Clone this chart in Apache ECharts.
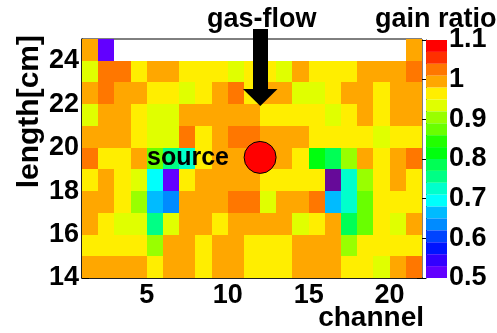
<!DOCTYPE html>
<html><head><meta charset="utf-8">
<script src="https://cdn.jsdelivr.net/npm/echarts@6/dist/echarts.min.js"></script>
<style>html,body{margin:0;padding:0;background:#fff}#c{width:497px;height:333px}</style>
</head><body><div id="c"></div>
<script>
// channel bins start at 1..21 (width 1), length bins start at 14..24 (height 1 cm)
const channels = [1,2,3,4,5,6,7,8,9,10,11,12,13,14,15,16,17,18,19,20,21];
const lengths = [14,15,16,17,18,19,20,21,22,23,24];
// gain ratio per row (null = empty cell)
const row14 = [0.995,0.995,0.995,0.995,0.965,0.995,0.995,0.965,0.995,0.995,0.965,0.965,0.965,0.995,0.995,0.995,0.965,0.965,0.935,0.995,1.025];
const row15 = [0.965,0.965,0.965,0.965,0.905,0.995,0.995,0.965,0.995,0.995,0.965,0.965,0.965,0.995,0.995,0.995,0.905,0.965,0.965,0.965,0.965];
const row16 = [0.995,0.965,0.935,0.935,0.755,0.935,0.995,0.995,0.965,0.995,0.995,0.995,0.995,0.935,0.965,0.995,0.785,0.875,0.965,0.935,0.995];
const row17 = [0.995,0.995,0.965,0.905,0.665,0.635,0.995,0.995,0.995,1.025,1.025,0.935,0.995,0.995,1.025,0.665,0.725,0.875,0.965,0.965,0.965];
const row18 = [0.965,0.995,0.965,0.935,0.695,0.515,0.965,0.995,0.995,0.995,0.995,0.965,0.965,0.965,0.965,0.48,0.725,0.905,0.965,0.995,0.965];
const row19 = [1.025,0.965,0.965,0.995,0.875,0.755,0.725,0.965,0.995,0.995,0.995,0.995,0.995,0.965,0.815,0.785,0.905,0.995,0.965,0.995,1.025];
const row20 = [0.995,0.995,0.995,0.965,0.935,0.935,1.025,0.965,0.995,1.025,1.025,0.995,0.995,0.995,0.965,0.965,0.965,0.965,0.935,0.965,0.965];
const row21 = [0.935,0.995,0.995,0.965,0.935,0.935,0.995,0.995,0.995,0.995,0.995,0.965,0.965,0.965,0.965,0.935,0.965,0.995,0.965,0.995,0.995];
const row22 = [0.995,1.025,0.995,0.995,0.965,0.965,0.935,0.965,0.995,1.025,0.965,0.995,0.995,0.935,0.935,0.965,0.995,0.995,0.965,0.995,0.995];
const row23 = [0.935,1.025,1.025,0.965,0.995,0.995,0.965,0.965,0.965,0.935,0.965,0.965,0.935,0.995,0.965,0.965,0.965,0.995,0.995,0.995,1.025];
const row24 = [0.995,0.515,null,null,null,null,null,null,null,null,null,null,null,null,null,null,null,null,null,null,0.995];
const rows = [row14,row15,row16,row17,row18,row19,row20,row21,row22,row23,row24];

const xTicks = [5,10,15,20];
const yTicks = [14,16,18,20,22,24];
const zMin = 0.5, zMax = 1.1, zLevels = 20;
// ROOT "pretty" palette colours for 20 contour levels (low -> high)
const levelColors = ['#6200FF','#3300FF','#0014FF','#0044FF','#008BFF','#00BBFF','#00FFFC','#00FFCC','#00FF85','#00FF55',
                     '#00FF0E','#22FF00','#69FF00','#99FF00','#E0FF00','#FFEE00','#FFA700','#FF7700','#FF3000','#FF0000'];
const sourcePos = [12, 19.55];

const data = [];
rows.forEach((r, i) => r.forEach((v, j) => { if (v !== null) data.push([channels[j], lengths[i], v]); }));

const step = (zMax - zMin) / zLevels;
const pieces = levelColors.map((c, j) => ({gte: +(zMin + j*step).toFixed(4), lt: +(zMin + (j+1)*step).toFixed(4), color: c}));

const FF = 'Liberation Sans';
const lbl = {fontFamily: FF, fontWeight: 'bold', fontSize: 27, color: '#000'};

const chart = echarts.init(document.getElementById('c'), null, {renderer: 'canvas'});
chart.setOption({
  backgroundColor: '#fff',
  animation: false,
  grid: [
    {left: 82, top: 39, right: 75, bottom: 55, show: true, borderColor: '#000', borderWidth: 1, backgroundColor: 'transparent'},
    {left: 426, top: 40, width: 21, bottom: 55}
  ],
  xAxis: [
    {type: 'value', gridIndex: 0, min: 1, max: 22,
     axisLine: {lineStyle: {color: '#000', width: 1.5}},
     axisTick: {inside: true, length: 7, lineStyle: {color: '#000'}, customValues: xTicks},
     axisLabel: Object.assign({margin: 4, customValues: xTicks}, lbl),
     splitLine: {show: false}},
    {type: 'value', gridIndex: 1, show: false, min: 0, max: 1}
  ],
  yAxis: [
    {type: 'value', gridIndex: 0, min: 14, max: 25,
     axisLine: {show: true, lineStyle: {color: '#000', width: 1.5}},
     axisTick: {show: true, inside: true, length: 7, lineStyle: {color: '#000'}, customValues: yTicks},
     axisLabel: Object.assign({margin: 3, customValues: yTicks}, lbl),
     splitLine: {show: false}},
    {type: 'value', gridIndex: 1, position: 'right', min: zMin, max: zMax, interval: 0.1,
     axisLine: {show: true, lineStyle: {color: '#000', width: 1}},
     axisTick: {show: true, inside: true, length: 9, lineStyle: {color: '#000'}},
     axisLabel: Object.assign({margin: 2}, lbl),
     splitLine: {show: false}}
  ],
  visualMap: {
    type: 'piecewise', seriesIndex: 0, dimension: 2, orient: 'vertical',
    pieces: pieces, outOfRange: {color: '#660A99'},
    left: 426, top: 40, padding: 0, itemWidth: 21, itemHeight: 238/20, itemGap: 0,
    itemSymbol: 'rect', showLabel: false, selectedMode: false, textStyle: {fontSize: 0}
  },
  series: [
    {type: 'custom', xAxisIndex: 0, yAxisIndex: 0, data: data, encode: {x: 0, y: 1},
     renderItem: function (params, api) {
       const x = api.value(0), y = api.value(1);
       const p0 = api.coord([x, y + 1]);
       const p1 = api.coord([x + 1, y]);
       const x0 = Math.round(p0[0]), y0 = Math.round(p0[1]);
       const x1 = Math.round(p1[0]), y1 = Math.round(p1[1]);
       return {type: 'rect', shape: {x: x0, y: y0, width: x1 - x0, height: y1 - y0},
               style: {fill: api.visual('color')}};
     }},
    {type: 'scatter', xAxisIndex: 0, yAxisIndex: 0, data: [sourcePos], symbolSize: 32, z: 5,
     itemStyle: {color: '#FF0000', borderColor: '#000', borderWidth: 1, opacity: 1}, silent: true}
  ],
  graphic: [
    {type: 'text', x: 207, y: 20, z: 10, style: {text: 'gas-flow', font: 'bold 27px "Liberation Sans"', fill: '#000', textVerticalAlign: 'middle'}},
    {type: 'text', x: 375, y: 20, z: 10, style: {text: 'gain ratio', font: 'bold 27px "Liberation Sans"', fill: '#000', textVerticalAlign: 'middle'}},
    {type: 'text', x: 147, y: 158, z: 10, style: {text: 'source', font: 'bold 25px "Liberation Sans"', fill: '#000', textVerticalAlign: 'middle'}},
    {type: 'text', x: 424, y: 318, z: 10, style: {text: 'channel', font: 'bold 28px "Liberation Sans"', fill: '#000', textAlign: 'right', textVerticalAlign: 'middle'}},
    {type: 'text', x: 30, y: 35, rotation: Math.PI/2, z: 10, style: {text: 'length[cm]', font: 'bold 30px "Liberation Sans"', fill: '#000', textAlign: 'right', textVerticalAlign: 'middle'}},
    {type: 'rect', z: 10, shape: {x: 253, y: 29, width: 15, height: 61}, style: {fill: '#000'}},
    {type: 'polygon', z: 10, shape: {points: [[243, 89], [277.5, 89], [260.3, 106]]}, style: {fill: '#000'}}
  ]
});
</script></body></html>
